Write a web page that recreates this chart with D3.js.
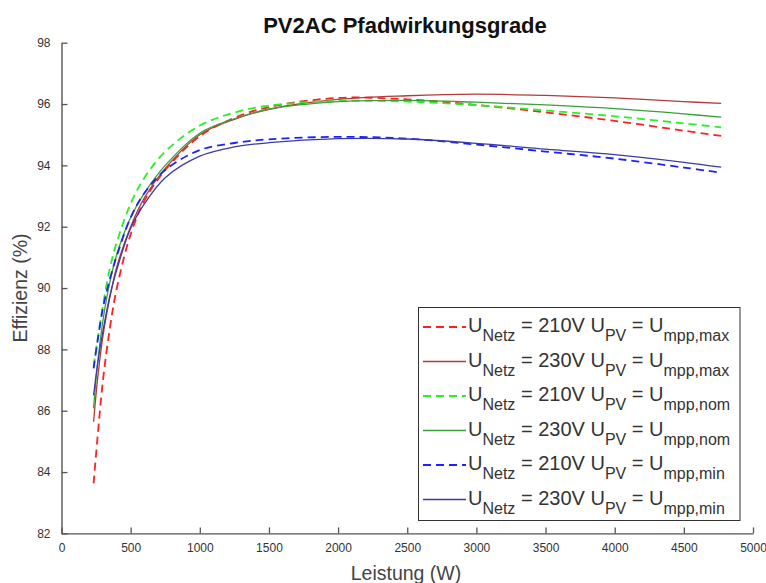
<!DOCTYPE html>
<html>
<head>
<meta charset="utf-8">
<script src="https://cdn.jsdelivr.net/npm/d3@7"></script>
<style>
  html, body { margin: 0; padding: 0; background: #fff; }
  svg { display: block; font-family: "Liberation Sans", Arial, sans-serif; }
</style>
</head>
<body>
<svg id="chart" width="766" height="583"></svg>
<script>
// ---- data ----
const leistung = [232, 260, 300, 350, 400, 500, 600, 750, 1000, 1250, 1500, 2000, 2500, 3000, 3500, 4000, 4500, 4770];

const netz210_mppMax = [83.63, 85.1, 87.0, 88.7, 90.0, 91.75, 92.85, 93.85, 94.95, 95.55, 95.9, 96.2, 96.15, 95.97, 95.73, 95.45, 95.13, 94.96];
const netz230_mppMax = [85.64, 87.0, 88.45, 89.7, 90.7, 92.0, 92.95, 93.9, 95.0, 95.5, 95.83, 96.15, 96.27, 96.32, 96.28, 96.2, 96.08, 96.02];
const netz210_mppNom = [87.44, 88.3, 89.45, 90.65, 91.5, 92.75, 93.6, 94.45, 95.3, 95.72, 95.95, 96.1, 96.08, 95.96, 95.79, 95.6, 95.37, 95.24];
const netz230_mppNom = [86.08, 87.5, 88.95, 90.2, 91.1, 92.3, 93.1, 94.0, 95.05, 95.52, 95.83, 96.08, 96.12, 96.06, 95.97, 95.85, 95.68, 95.57];
const netz210_mppMin = [87.38, 88.25, 89.35, 90.3, 91.05, 92.3, 93.1, 93.85, 94.5, 94.73, 94.85, 94.93, 94.87, 94.68, 94.45, 94.22, 93.93, 93.76];
const netz230_mppMin = [86.5, 87.5, 88.6, 89.75, 90.6, 91.95, 92.75, 93.6, 94.3, 94.6, 94.74, 94.87, 94.86, 94.72, 94.53, 94.35, 94.1, 93.94];

const netzSpannung = ["210V", "230V", "210V", "230V", "210V", "230V"];
const mppLabel = ["mpp,max", "mpp,max", "mpp,nom", "mpp,nom", "mpp,min", "mpp,min"];
const seriesColors = ["#ff2020", "#b33a3a", "#28f028", "#38a038", "#2020ff", "#3a3aa8"];
const seriesDashed = [true, false, true, false, true, false];
const seriesValues = [netz210_mppMax, netz230_mppMax, netz210_mppNom, netz230_mppNom, netz210_mppMin, netz230_mppMin];

const xTicks = [0, 500, 1000, 1500, 2000, 2500, 3000, 3500, 4000, 4500, 5000];
const yTicks = [82, 84, 86, 88, 90, 92, 94, 96, 98];

const titleText = "PV2AC Pfadwirkungsgrade";
const xLabel = "Leistung (W)";
const yLabel = "Effizienz (%)";

// ---- chart ----
const svg = d3.select("#chart");
const x = d3.scaleLinear().domain([0, 5000]).range([61.5, 753]);
const y = d3.scaleLinear().domain([82, 98]).range([533.4, 42.7]);

const axisColor = "#555";
const textColor = "#333";

const xAxis = svg.append("g")
  .attr("transform", `translate(0,${y(82)})`)
  .call(d3.axisBottom(x).tickValues(xTicks).tickFormat(d3.format("d"))
    .tickSizeInner(-6).tickSizeOuter(0).tickPadding(10));
const yAxis = svg.append("g")
  .attr("transform", `translate(${x(0)},0)`)
  .call(d3.axisLeft(y).tickValues(yTicks).tickFormat(d3.format("d"))
    .tickSizeInner(-6).tickSizeOuter(0).tickPadding(11));

[xAxis, yAxis].forEach(g => {
  g.select(".domain").attr("stroke", axisColor).attr("stroke-width", 1.4);
  g.selectAll(".tick line").attr("stroke", axisColor).attr("stroke-width", 1.3);
  g.selectAll(".tick text").attr("fill", textColor)
    .style("font-family", "'Liberation Sans Narrow', 'Liberation Sans', Arial, sans-serif")
    .style("font-size", "12px");
});

// lines
const line = d3.line()
  .x((d, i) => x(leistung[i]))
  .y(d => y(d))
  .curve(d3.curveCatmullRom.alpha(0.5));

seriesValues.forEach((vals, k) => {
  svg.append("path")
    .datum(vals)
    .attr("d", line)
    .attr("fill", "none")
    .attr("stroke", seriesColors[k])
    .attr("stroke-width", seriesDashed[k] ? 1.8 : 1.3)
    .attr("stroke-dasharray", seriesDashed[k] ? "8,5" : null);
});

// title & labels
svg.append("text")
  .attr("x", 405).attr("y", 33)
  .attr("text-anchor", "middle")
  .style("font-weight", "bold").style("font-size", "22px")
  .attr("fill", "#111")
  .text(titleText);

svg.append("text")
  .attr("x", 406).attr("y", 580)
  .attr("text-anchor", "middle")
  .style("font-size", "19.5px")
  .attr("fill", "#444")
  .text(xLabel);

svg.append("text")
  .attr("transform", "translate(27,288) rotate(-90)")
  .attr("text-anchor", "middle")
  .style("font-size", "19.5px")
  .attr("fill", "#444")
  .text(yLabel);

// legend
const legend = svg.append("g");
legend.append("rect")
  .attr("x", 418.5).attr("y", 307.5)
  .attr("width", 321.5).attr("height", 213)
  .attr("fill", "#fff").attr("stroke", "#333").attr("stroke-width", 1);

const rowStart = 327, rowStep = 34.5;
seriesValues.forEach((vals, k) => {
  const cy = rowStart + k * rowStep;
  legend.append("line")
    .attr("x1", 423).attr("x2", 466)
    .attr("y1", cy).attr("y2", cy)
    .attr("stroke", seriesColors[k])
    .attr("stroke-width", seriesDashed[k] ? 1.8 : 1.3)
    .attr("stroke-dasharray", seriesDashed[k] ? "8,5" : null);
  const t = legend.append("text")
    .attr("x", 468).attr("y", cy + 5)
    .attr("fill", textColor)
    .style("font-size", "20px");
  t.append("tspan").text("U");
  t.append("tspan").attr("dy", 9).style("font-size", "16px").text("Netz");
  t.append("tspan").attr("dy", -9).text(` = ${netzSpannung[k]} U`);
  t.append("tspan").attr("dy", 9).style("font-size", "16px").text("PV");
  t.append("tspan").attr("dy", -9).text(" = U");
  t.append("tspan").attr("dy", 9).style("font-size", "16px").text(mppLabel[k]);
});
</script>
</body>
</html>
